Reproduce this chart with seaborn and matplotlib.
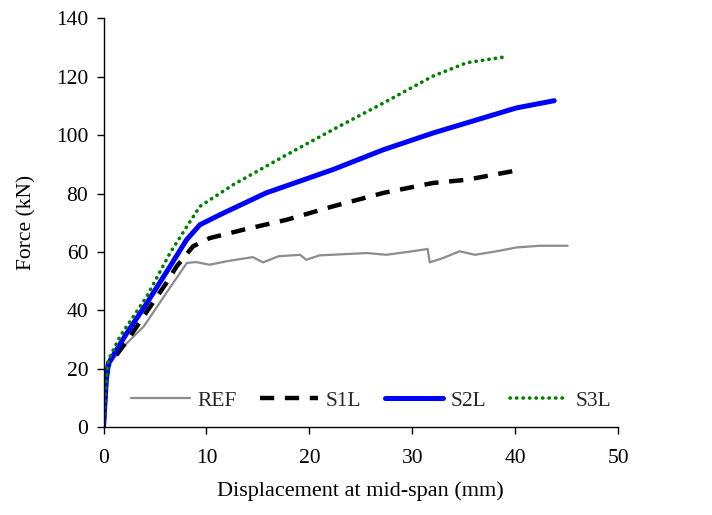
import matplotlib
matplotlib.use("Agg")
import matplotlib.pyplot as plt
import seaborn as sns

sns.set_theme(style="ticks")
plt.rcParams['font.family'] = ['Liberation Serif', 'DejaVu Serif']

ref_x = [0, 0.1, 0.2, 0.3, 0.47, 1.6, 3.9, 6.1, 8.1, 9.0, 10.3, 12.0, 14.5, 15.5, 17.0, 19.1, 19.7, 21.0, 25.6, 27.5, 30.0, 31.5, 31.7, 33.0, 34.6, 36.1, 38.2, 40.1, 42.4, 45.1]
ref_y = [0, 6, 12, 17, 20.7, 26.4, 34.4, 45.9, 56.2, 56.5, 55.6, 56.8, 58.2, 56.4, 58.5, 59.0, 57.3, 58.8, 59.6, 59.0, 60.2, 61.0, 56.4, 57.9, 60.2, 59.0, 60.2, 61.5, 62.1, 62.1]

s1_x = [0, 0.1, 0.2, 0.3, 0.47, 2.25, 3.87, 6.1, 7.1, 8.7, 10.3, 13.6, 17.8, 22.3, 27.2, 32.0, 35.3, 40.6]
s1_y = [0, 6, 12, 17, 21.0, 29.3, 37.8, 49.3, 55.0, 61.9, 64.7, 67.6, 71.0, 75.6, 80.2, 83.6, 84.7, 88.2]

s2_x = [0, 0.1, 0.2, 0.3, 0.47, 2.25, 4.2, 6.46, 8.08, 9.37, 11.3, 15.8, 22.3, 27.2, 32.0, 36.9, 40.1, 43.8]
s2_y = [0, 6, 12, 17, 21.8, 32.1, 42.4, 55.0, 64.2, 69.3, 72.7, 80.2, 88.2, 95.0, 100.7, 105.9, 109.3, 111.8]

s3_x = [0, 0.1, 0.2, 0.3, 0.47, 1.6, 4.2, 6.46, 8.1, 9.37, 12.6, 17.5, 22.3, 27.2, 32.0, 35.3, 38.8]
s3_y = [0, 6, 12, 17, 23.0, 31.0, 44.7, 59.6, 68.7, 75.6, 83.0, 92.7, 101.9, 111.0, 120.2, 124.8, 126.7]

x_ticks = [0, 10, 20, 30, 40, 50]
y_ticks = [0, 20, 40, 60, 80, 100, 120, 140]

FS = 15.5

fig = plt.figure(figsize=(7.12, 5.15), dpi=100)
ax = fig.add_axes([0.1454, 0.1709, 0.868 - 0.1454, 0.9643 - 0.1709])

sns.lineplot(x=ref_x, y=ref_y, ax=ax, color='#8c8c8c', lw=1.6, label='REF', sort=False, estimator=None)
sns.lineplot(x=s1_x, y=s1_y, ax=ax, color='black', lw=3.2, label='S1L', sort=False, estimator=None)
sns.lineplot(x=s2_x, y=s2_y, ax=ax, color='#0000ff', lw=3.6, label='S2L', sort=False, estimator=None)
sns.lineplot(x=s3_x, y=s3_y, ax=ax, color='#008000', lw=2.6, label='S3L', sort=False, estimator=None)

DASH = [3.2, 2.4]
DOT = [0.1, 1.7]
lines = ax.get_lines()
lines[1].set_dashes(DASH)
lines[3].set_dashes(DOT)
lines[3].set_dash_capstyle('round')

ax.set_xlim(0, 50)
ax.set_ylim(0, 140)
ax.set_xticks(x_ticks)
ax.set_yticks(y_ticks)
ax.tick_params(axis='both', labelsize=FS, direction='out', length=5, width=1, colors='black')
ax.tick_params(axis='x', pad=10.5)
ax.tick_params(axis='y', pad=6)
for s in ['top', 'right']:
    ax.spines[s].set_visible(False)
for s in ['left', 'bottom']:
    ax.spines[s].set_color('black')
    ax.spines[s].set_linewidth(1)

ax.set_xlabel('Displacement at mid-span (mm)', fontsize=16, color='black')
ax.set_ylabel('Force (kN)', fontsize=FS, color='black')
ax.xaxis.set_label_coords(0.5, -0.132)
ax.yaxis.set_label_coords(-0.13, 0.5)

handles, labels = ax.get_legend_handles_labels()
leg = ax.legend(handles, labels, loc='center', bbox_to_anchor=(0.521, 0.064), ncol=4,
                frameon=False, fontsize=FS, handlelength=2.7, columnspacing=1.1, handletextpad=0.35)
leg.get_lines()[1].set_dashes(DASH)
leg.get_lines()[3].set_dashes(DOT)
leg.get_lines()[3].set_dash_capstyle('round')

fig.savefig('out.png', dpi=100)
